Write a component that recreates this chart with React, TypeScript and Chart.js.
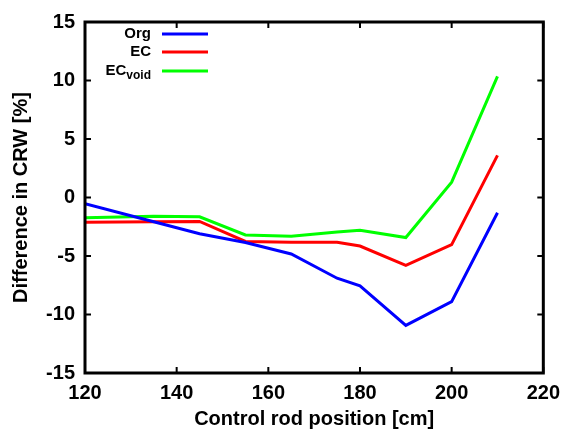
import React, { useEffect, useRef } from "react";
import { Chart, registerables } from "chart.js";

Chart.register(...registerables);

const positions = [120, 135, 145, 155, 165, 175, 180, 190, 200, 210];
const orgValues = [-0.52, -2.07, -3.1, -3.85, -4.83, -6.9, -7.55, -10.93, -8.9, -1.3];
const ecValues = [-2.12, -2.08, -2.05, -3.76, -3.83, -3.82, -4.15, -5.8, -4.03, 3.6];
const ecVoidValues = [-1.73, -1.6, -1.65, -3.2, -3.32, -2.95, -2.8, -3.42, 1.31, 10.35];

const xTickValues = [120, 140, 160, 180, 200, 220];
const yTickValues = [-15, -10, -5, 0, 5, 10, 15];

const seriesNames = ["Org", "EC", "EC"];
const seriesSubscripts = ["", "", "void"];
const seriesColors = ["#0000ff", "#ff0000", "#00ff00"];

const xTitle = "Control rod position [cm]";
const yTitle = "Difference in CRW [%]";

const FONT = "'Liberation Sans', Arial, Helvetica, sans-serif";

const framePlugin = {
  id: "frameAndLegend",
  afterDraw(chart: any) {
    const { ctx, chartArea, scales } = chart;
    const { left, right, top, bottom } = chartArea;
    const xs = scales.x;
    const ys = scales.y;
    ctx.save();
    ctx.strokeStyle = "#000";
    ctx.lineWidth = 3;
    ctx.strokeRect(left, top, right - left, bottom - top);
    ctx.lineWidth = 2;
    const tl = 6;
    ctx.beginPath();
    for (const v of xTickValues) {
      const px = xs.getPixelForValue(v);
      ctx.moveTo(px, bottom);
      ctx.lineTo(px, bottom - tl);
      ctx.moveTo(px, top);
      ctx.lineTo(px, top + tl);
    }
    for (const v of yTickValues) {
      const py = ys.getPixelForValue(v);
      ctx.moveTo(left, py);
      ctx.lineTo(left + tl, py);
      ctx.moveTo(right, py);
      ctx.lineTo(right - tl, py);
    }
    ctx.stroke();

    // legend
    const textRight = left + 66;
    const lineStart = left + 77;
    const lineEnd = left + 123;
    const rowY = [top + 12, top + 30, top + 49];
    ctx.textBaseline = "middle";
    for (let i = 0; i < seriesNames.length; i++) {
      const y = rowY[i];
      const sub = seriesSubscripts[i];
      ctx.fillStyle = "#000";
      let subW = 0;
      if (sub) {
        ctx.font = `bold 12px ${FONT}`;
        subW = ctx.measureText(sub).width;
        ctx.textAlign = "right";
        ctx.fillText(sub, textRight, y + 5);
      }
      ctx.font = `bold 15px ${FONT}`;
      ctx.textAlign = "right";
      ctx.fillText(seriesNames[i], textRight - subW, y);
      ctx.strokeStyle = seriesColors[i];
      ctx.lineWidth = 3;
      ctx.beginPath();
      ctx.moveTo(lineStart, y);
      ctx.lineTo(lineEnd, y);
      ctx.stroke();
    }
    ctx.restore();
  },
};

export default function App() {
  const ref = useRef<HTMLCanvasElement | null>(null);
  useEffect(() => {
    if (!ref.current) return;
    const mk = (vals: number[]) => positions.map((x, i) => ({ x, y: vals[i] }));
    const tickFont = { family: FONT, size: 20, weight: "bold" as const };
    const chart = new Chart(ref.current, {
      type: "line",
      data: {
        datasets: [
          { label: "Org", data: mk(orgValues), borderColor: seriesColors[0], borderWidth: 3, pointRadius: 0, fill: false, tension: 0 },
          { label: "EC", data: mk(ecValues), borderColor: seriesColors[1], borderWidth: 3, pointRadius: 0, fill: false, tension: 0 },
          { label: "ECvoid", data: mk(ecVoidValues), borderColor: seriesColors[2], borderWidth: 3, pointRadius: 0, fill: false, tension: 0 },
        ],
      },
      options: {
        responsive: false,
        animation: false,
        layout: { padding: { top: 18, right: 19, left: 0, bottom: 0 } },
        plugins: { legend: { display: false }, tooltip: { enabled: false } },
        scales: {
          x: {
            type: "linear",
            min: 120,
            max: 220,
            afterBuildTicks: (s: any) => {
              s.ticks = xTickValues.map((v) => ({ value: v }));
            },
            afterFit: (s: any) => {
              s.height = 60;
            },
            ticks: { font: tickFont, color: "#000", padding: 8, maxRotation: 0, autoSkip: false },
            grid: { display: false, drawTicks: false },
            border: { display: false },
            title: { display: true, text: xTitle, font: tickFont, color: "#000", padding: { top: 0, bottom: 2 } },
          },
          y: {
            type: "linear",
            min: -15,
            max: 15,
            afterBuildTicks: (s: any) => {
              s.ticks = yTickValues.map((v) => ({ value: v }));
            },
            afterFit: (s: any) => {
              s.width = 85;
            },
            ticks: { font: tickFont, color: "#000", padding: 10, autoSkip: false },
            grid: { display: false, drawTicks: false },
            border: { display: false },
            title: { display: true, text: yTitle, font: tickFont, color: "#000", padding: { top: 9, bottom: 0 } },
          },
        },
      },
      plugins: [framePlugin],
    } as any);
    return () => chart.destroy();
  }, []);
  return (
    <canvas
      ref={ref}
      width={568}
      height={433}
      style={{ position: "absolute", left: 0, top: 0, width: 568, height: 433 }}
    />
  );
}
